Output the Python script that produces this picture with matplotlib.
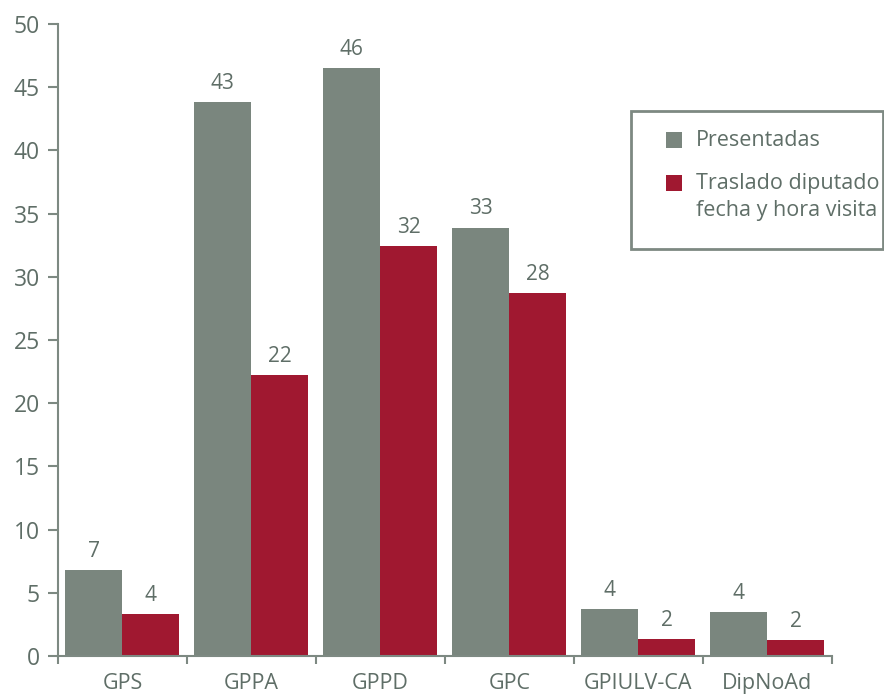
import matplotlib
matplotlib.use("Agg")
import matplotlib.pyplot as plt
from matplotlib.patches import Rectangle
from matplotlib.ticker import FixedLocator
import numpy as np

categories = ["GPS", "GPPA", "GPPD", "GPC", "GPIULV-CA", "DipNoAd"]
presentadas = [6.8, 43.8, 46.5, 33.9, 3.7, 3.5]
traslado = [3.3, 22.2, 32.4, 28.7, 1.35, 1.25]
presentadas_labels = ["7", "43", "46", "33", "4", "4"]
traslado_labels = ["4", "22", "32", "28", "2", "2"]
series_names = ["Presentadas", "Traslado diputado\nfecha y hora visita"]
yticks = [0, 5, 10, 15, 20, 25, 30, 35, 40, 45, 50]

GRAY = "#7A867E"
RED = "#A01830"
TEXT = "#5F6E67"
AXIS = "#7D8982"

plt.rcParams["font.family"] = ["Open Sans", "DejaVu Sans"]

W, H = 884, 696
fig = plt.figure(figsize=(W / 100, H / 100), dpi=100)
ax = fig.add_axes([58 / W, (H - 656) / H, (831.7 - 58) / W, (656 - 24) / H])

x = np.arange(len(categories))
bw = 0.442
b1 = ax.bar(x - bw / 2, presentadas, bw, color=GRAY, linewidth=0)
b2 = ax.bar(x + bw / 2, traslado, bw, color=RED, linewidth=0)

for bars, labels in ((b1, presentadas_labels), (b2, traslado_labels)):
    for rect, lab in zip(bars, labels):
        ax.annotate(lab, (rect.get_x() + rect.get_width() / 2, rect.get_height()),
                    xytext=(0, 9.5), textcoords="offset points",
                    ha="center", va="baseline", fontsize=15, color=TEXT)

ax.set_xlim(-0.5, len(categories) - 0.5)
ax.set_ylim(0, 50)
ax.set_yticks(yticks)
ax.set_xticks(x)
ax.set_xticklabels(categories)
ax.xaxis.set_minor_locator(FixedLocator(np.arange(-0.5, len(categories), 1.0)))

for s in ("top", "right"):
    ax.spines[s].set_visible(False)
for s in ("left", "bottom"):
    ax.spines[s].set_color(AXIS)
    ax.spines[s].set_linewidth(1.5)

ax.tick_params(axis="y", direction="out", length=7, width=1.5, color=AXIS,
               labelcolor=TEXT, labelsize=16.5, pad=6)
ax.tick_params(axis="x", which="major", length=0, labelcolor=TEXT, labelsize=15.5, pad=12)
ax.tick_params(axis="x", which="minor", direction="out", length=5.5, width=1.5, color=AXIS)

# Legend box
def fx(px):
    return px / W

def fy(py):
    return (H - py) / H

fig.add_artist(Rectangle((fx(631), fy(249)), fx(883) - fx(631), fy(111) - fy(249),
                         transform=fig.transFigure, fill=False, edgecolor=AXIS, linewidth=2))
handle_y = [140, 183]
text_y = [140, 197]
for col, name, hy, ty in zip((GRAY, RED), series_names, handle_y, text_y):
    fig.add_artist(Rectangle((fx(666), fy(hy + 8)), fx(682) - fx(666), fy(hy - 8) - fy(hy + 8),
                             transform=fig.transFigure, facecolor=col, edgecolor="none"))
    fig.text(fx(696), fy(ty), name, ha="left", va="center", fontsize=15.5, color=TEXT,
             linespacing=1.35)

fig.savefig("out.png", dpi=100)
